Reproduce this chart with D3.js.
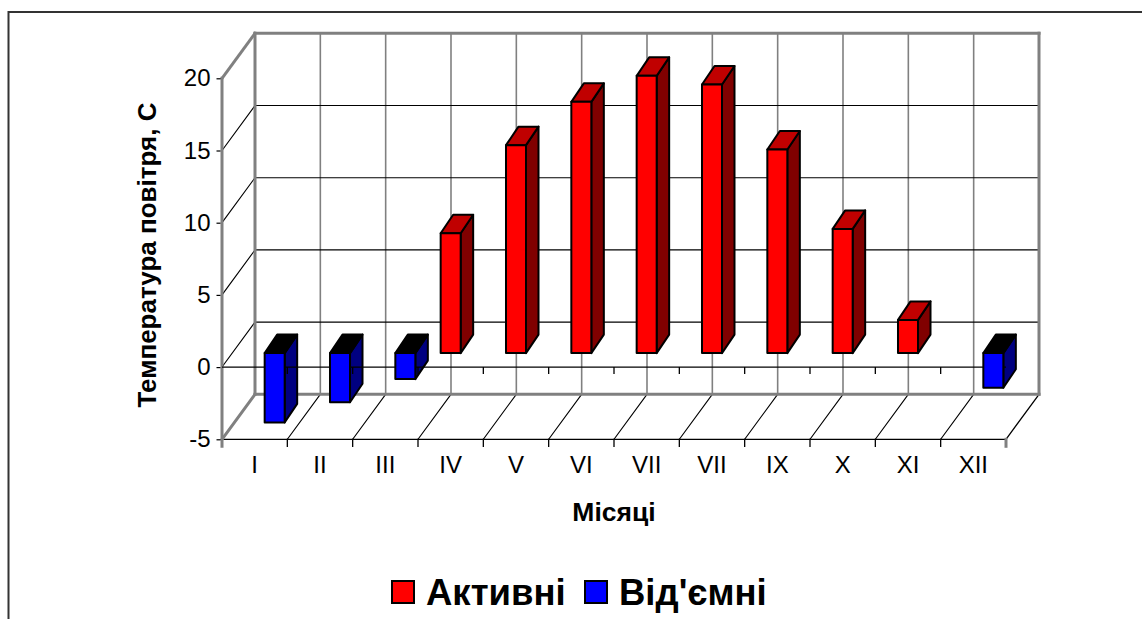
<!DOCTYPE html>
<html>
<head>
<meta charset="utf-8">
<script src="https://cdn.jsdelivr.net/npm/d3@7"></script>
<style>
  html, body { margin: 0; padding: 0; background: #fff; }
  svg { display: block; }
  text { font-family: Arial, "Liberation Sans", sans-serif; }
</style>
</head>
<body>
<svg id="chart" width="1142" height="619"></svg>
<script>
// Months (the eighth label is written as in the source table)
const categories = ["I", "II", "III", "IV", "V", "VI", "VII", "VII", "IX", "X", "XI", "XII"];
const monthKeys = categories.map((c, i) => c + "_" + i);

// Mean monthly air temperature, °C
const activeTemps = [null, null, null, 8.3, 14.4, 17.4, 19.2, 18.6, 14.1, 8.6, 2.3, null];
const negativeTemps = [-4.8, -3.4, -1.8, null, null, null, null, null, null, null, null, -2.4];

const seriesNames = ["Активні", "Від'ємні"];
const yTicks = [-5, 0, 5, 10, 15, 20];

const svg = d3.select("#chart");

// outer frame
svg.append("rect")
  .attr("x", 8.5).attr("y", 12).attr("width", 1160).attr("height", 640)
  .attr("fill", "none").attr("stroke", "#333").attr("stroke-width", 2);

// front plane scales
const y = d3.scaleLinear().domain([-5, 20]).range([439.3, 78.3]);
const x0 = d3.scaleBand().domain(monthKeys).range([222, 1006]);
const x1 = d3.scaleBand().domain(seriesNames).range([0, x0.bandwidth()]).paddingOuter(0.633);

// oblique depth of the box and of the bars
const depth = { dx: 33, dy: -45 };
const barFront = { dx: 10, dy: -14 };
const barDepth = { dx: 12.5, dy: -18.5 };

const xL = x0.range()[0], xR = x0.range()[1];
const yTop = y(20), yBot = y(-5);
const bx = v => v + depth.dx, by = v => v + depth.dy;

const walls = svg.append("g");
const line = (x1_, y1_, x2_, y2_, color, w) =>
  walls.append("line").attr("x1", x1_).attr("y1", y1_).attr("x2", x2_).attr("y2", y2_)
    .attr("stroke", color).attr("stroke-width", w).attr("stroke-linecap", "square");

// back wall vertical gridlines
monthKeys.slice(1).forEach(k => {
  const xv = bx(x0(k));
  line(xv, by(yTop), xv, by(yBot), "#808080", 1.6);
});
// back wall horizontal gridlines and left wall diagonals
yTicks.filter(t => t > -5 && t < 20).forEach(t => {
  line(bx(xL), by(y(t)), bx(xR), by(y(t)), "#000", 1.1);
  line(xL, y(t), bx(xL), by(y(t)), "#000", 1.1);
});
// floor diagonals
monthKeys.slice(1).forEach(k => {
  const xv = x0(k);
  line(xv, yBot, bx(xv), by(yBot), "#000", 1.1);
});
line(xR, yBot, bx(xR), by(yBot), "#000", 1.3);
line(xL, yBot, xR, yBot, "#000", 1.3);

// box edges
line(bx(xL), by(yTop), bx(xR), by(yTop), "#808080", 3);
line(bx(xR), by(yTop), bx(xR), by(yBot), "#808080", 3);
line(bx(xL), by(yBot), bx(xR), by(yBot), "#808080", 3);
line(bx(xL), by(yTop), bx(xL), by(yBot), "#808080", 3);
line(xL, yTop, bx(xL), by(yTop), "#808080", 3);
line(xL, yBot, bx(xL), by(yBot), "#808080", 3);
line(xL, yTop, xL, yBot + 7, "#808080", 3);

// floor ticks
monthKeys.slice(1).forEach(k => line(x0(k), yBot, x0(k), yBot + 7, "#000", 1.3));
line(xR, yBot, xR, yBot + 7, "#808080", 3);

// value axis
const yAxis = svg.append("g").attr("transform", `translate(${xL - 1.5},0)`)
  .call(d3.axisLeft(y).tickValues(yTicks).tickSize(4).tickPadding(6).tickFormat(d => String(d)));
yAxis.select(".domain").remove();
yAxis.selectAll(".tick line").attr("stroke", "#000").attr("stroke-width", 1.2);
yAxis.selectAll(".tick text").attr("font-size", 24).attr("fill", "#000")
  .attr("font-family", "Arial, 'Liberation Sans', sans-serif");

// category labels
const xAxis = svg.append("g").attr("transform", `translate(0,${yBot})`)
  .call(d3.axisBottom(x0).tickSize(0).tickPadding(17).tickFormat(k => k.split("_")[0]));
xAxis.select(".domain").remove();
xAxis.selectAll(".tick text").attr("font-size", 24).attr("fill", "#000")
  .attr("font-family", "Arial, 'Liberation Sans', sans-serif");

// bar records
const bars = [];
monthKeys.forEach((k, i) => {
  if (activeTemps[i] != null) bars.push({ key: k, s: seriesNames[0], v: activeTemps[i] });
  if (negativeTemps[i] != null) bars.push({ key: k, s: seriesNames[1], v: negativeTemps[i] });
});
const colors = {
  "Активні": { front: "#ff0000", top: "#c00000", side: "#800000" },
  "Від'ємні": { front: "#0000ff", top: "#000000", side: "#000080" }
};
const bw = x1.bandwidth();
const geom = d => {
  const xa = x0(d.key) + x1(d.s) + barFront.dx;
  const yHi = Math.min(y(d.v), y(0)) + barFront.dy;
  const yLo = Math.max(y(d.v), y(0)) + barFront.dy;
  return { xa, xb: xa + bw, yHi, yLo };
};
const stroke = { "stroke": "#000", "stroke-width": 2, "stroke-linejoin": "round" };
const applyStroke = sel => Object.entries(stroke).forEach(([a, v]) => sel.attr(a, v));

const barBack = svg.append("g");
// side faces
barBack.selectAll("path.side").data(bars).join("path").attr("class", "side")
  .attr("d", d => {
    const g = geom(d);
    return `M${g.xb},${g.yHi}L${g.xb + barDepth.dx},${g.yHi + barDepth.dy}L${g.xb + barDepth.dx},${g.yLo + barDepth.dy}L${g.xb},${g.yLo}Z`;
  })
  .attr("fill", d => colors[d.s].side).call(applyStroke);
// top faces
barBack.selectAll("path.top").data(bars).join("path").attr("class", "top")
  .attr("d", d => {
    const g = geom(d);
    return `M${g.xa},${g.yHi}L${g.xa + barDepth.dx},${g.yHi + barDepth.dy}L${g.xb + barDepth.dx},${g.yHi + barDepth.dy}L${g.xb},${g.yHi}Z`;
  })
  .attr("fill", d => colors[d.s].top).call(applyStroke);

// zero line of the category axis with its ticks
const zl = svg.append("g");
zl.append("line").attr("x1", xL).attr("x2", xR).attr("y1", y(0)).attr("y2", y(0))
  .attr("stroke", "#000").attr("stroke-width", 1.3);
zl.selectAll("line.t").data(monthKeys.slice(1)).join("line").attr("class", "t")
  .attr("x1", k => x0(k)).attr("x2", k => x0(k)).attr("y1", y(0)).attr("y2", y(0) + 7)
  .attr("stroke", "#000").attr("stroke-width", 1.3);

// front faces
svg.append("g").selectAll("rect").data(bars).join("rect")
  .attr("x", d => geom(d).xa).attr("y", d => geom(d).yHi)
  .attr("width", bw).attr("height", d => geom(d).yLo - geom(d).yHi)
  .attr("fill", d => colors[d.s].front).call(applyStroke);

// axis titles
svg.append("text")
  .attr("transform", `translate(156,255) rotate(-90)`)
  .attr("text-anchor", "middle").attr("font-size", 26).attr("font-weight", "bold")
  .text("Температура повітря, С");
svg.append("text")
  .attr("x", 614).attr("y", 521).attr("text-anchor", "middle")
  .attr("font-size", 26.5).attr("font-weight", "bold")
  .text("Місяці");

// legend
const legendPos = [{ x: 392, tx: 426 }, { x: 585, tx: 619 }];
const legend = svg.append("g");
seriesNames.forEach((s, i) => {
  legend.append("rect").attr("x", legendPos[i].x).attr("y", 581).attr("width", 22).attr("height", 22)
    .attr("fill", colors[s].front).attr("stroke", "#000").attr("stroke-width", 2);
  legend.append("text").attr("x", legendPos[i].tx).attr("y", 605)
    .attr("font-size", 36.5).attr("font-weight", "bold").text(s);
});
</script>
</body>
</html>
